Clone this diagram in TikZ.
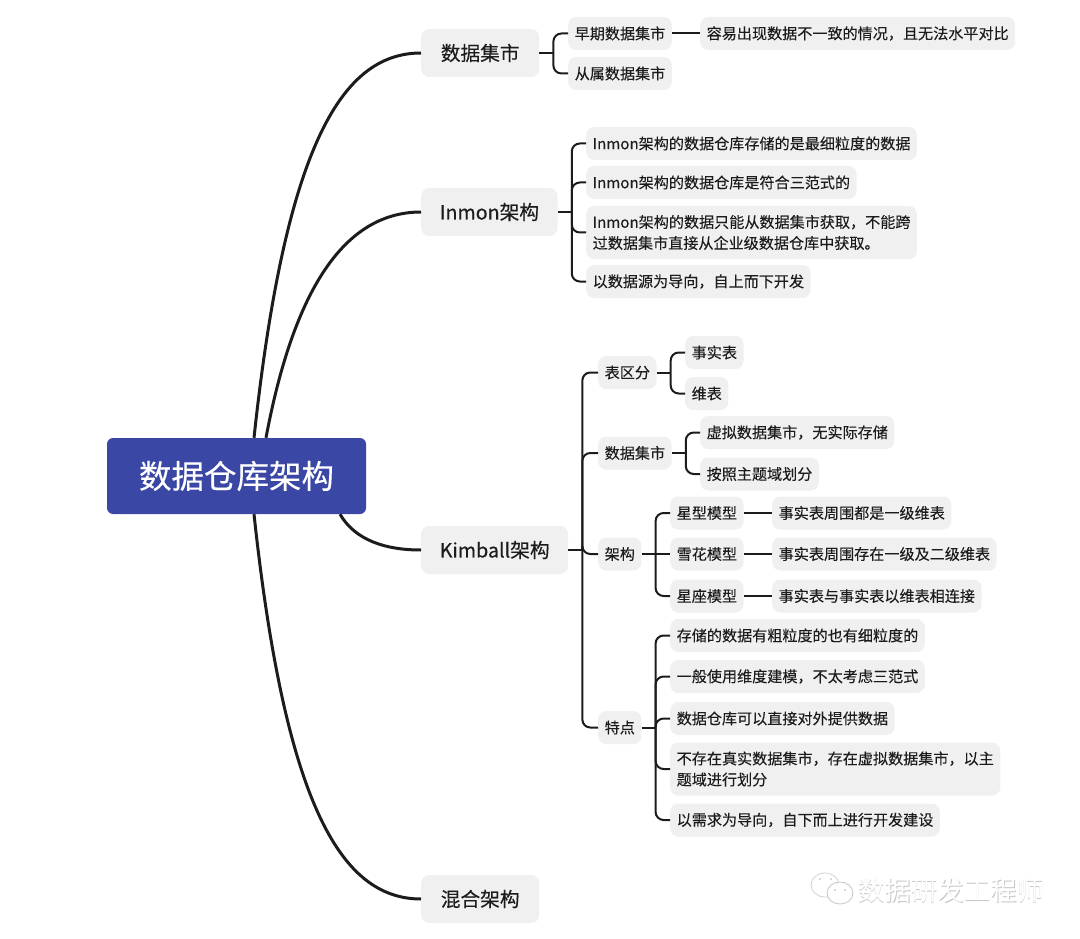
\documentclass[tikz,border=0pt]{standalone}
\usepackage{fontspec}
\setmainfont{Noto Sans CJK SC}
\newfontfamily\heavyfont[FakeBold=0.35]{Noto Sans CJK SC}
\newfontfamily\softfont[FakeBold=0.12]{Noto Sans CJK SC}
\tikzset{
  rootbox/.style={fill=rootblue,rounded corners=6,minimum width=259,minimum height=76,text=white,font=\heavyfont\fontsize{32.5}{38}\selectfont,inner sep=0},
  mainbox/.style={anchor=west,fill=boxgray,rounded corners=8,minimum width=118,minimum height=48,inner xsep=18.5,inner ysep=0,text=inkblack,font=\heavyfont\fontsize{19.7}{24}\selectfont},
  leafbox/.style={anchor=west,fill=boxgray,rounded corners=8,minimum height=33,inner xsep=6.5,inner ysep=3,text=inkblack,align=left,font=\softfont\fontsize{15.1}{21}\selectfont},
  trunk/.style={draw=inkblack,line width=3},
  twig/.style={draw=inkblack,line width=2,rounded corners=8},
  stem/.style={draw=inkblack,line width=2}
}
\definecolor{rootblue}{HTML}{3A47A4}
\definecolor{boxgray}{HTML}{F0F0F0}
\definecolor{inkblack}{HTML}{1C1C1C}
\begin{document}
\begin{tikzpicture}[x=1pt,y=-1pt]
	\useasboundingbox (0,0) rectangle (1080,939);

	% centre and first level
	\node[rootbox] (root) at (236.5,476) {数据仓库架构};
	\node[mainbox] (mart) at (421,53) {数据集市};
	\node[mainbox] (inmon) at (421,212) {Inmon架构};
	\node[mainbox] (kimball) at (421,550) {Kimball架构};
	\node[mainbox] (hybrid) at (421,899) {混合架构};

	\draw[trunk] ([xshift=17.5]root.north) .. controls (285,150) and (340,53) .. (mart.west);
	\draw[trunk] ([xshift=29.5]root.north) .. controls (290,310) and (335,212) .. (inmon.west);
	\draw[trunk] ([xshift=103.5]root.south) .. controls (355,540) and (385,550) .. (kimball.west);
	\draw[trunk] ([xshift=17.5]root.south) .. controls (285,802) and (340,899) .. (hybrid.west);

	% data mart
	\node[leafbox] (early) at (568,33.5) {早期数据集市};
	\node[leafbox] (sub) at (568,73.5) {从属数据集市};
	\node[leafbox] (issue) at (700,33.5) {容易出现数据不一致的情况，且无法水平对比};
	\draw[stem] (mart.east) -- ++(14,0) coordinate (martj);
	\draw[twig] (martj) |- (early.west);
	\draw[twig] (martj) |- (sub.west);
	\draw[stem] (early.east) -- (issue.west);

	% inmon
	\node[leafbox] (inmona) at (586,143.5) {Inmon架构的数据仓库存储的是最细粒度的数据};
	\node[leafbox] (inmonb) at (586,182.5) {Inmon架构的数据仓库是符合三范式的};
	\node[leafbox,minimum height=53] (inmonc) at (586,232.5) {Inmon架构的数据只能从数据集市获取，不能跨\\过数据集市直接从企业级数据仓库中获取。};
	\node[leafbox] (inmond) at (586,281.5) {以数据源为导向，自上而下开发};
	\draw[stem] (inmon.east) -- ++(14,0) coordinate (inmonj);
	\draw[twig] (inmonj) |- (inmona.west);
	\draw[twig] (inmonj) |- (inmonb.west);
	\draw[twig] (inmonj) |- (inmonc.west);
	\draw[twig] (inmonj) |- (inmond.west);

	% kimball
	\node[leafbox] (split) at (598,372.5) {表区分};
	\node[leafbox] (fact) at (685,352.5) {事实表};
	\node[leafbox] (dim) at (685,393.5) {维表};
	\node[leafbox] (kmart) at (598,453) {数据集市};
	\node[leafbox] (virt) at (700,432.5) {虚拟数据集市，无实际存储};
	\node[leafbox] (theme) at (700,474) {按照主题域划分};
	\node[leafbox] (arch) at (598,554) {架构};
	\node[leafbox] (star) at (670,513) {星型模型};
	\node[leafbox] (snow) at (670,554) {雪花模型};
	\node[leafbox] (cons) at (670,596) {星座模型};
	\node[leafbox] (stard) at (772,513) {事实表周围都是一级维表};
	\node[leafbox] (snowd) at (772,554) {事实表周围存在一级及二级维表};
	\node[leafbox] (consd) at (772,596) {事实表与事实表以维表相连接};
	\node[leafbox] (trait) at (598,727.5) {特点};
	\node[leafbox] (traita) at (670,635.5) {存储的数据有粗粒度的也有细粒度的};
	\node[leafbox] (traitb) at (670,676.5) {一般使用维度建模，不太考虑三范式};
	\node[leafbox] (traitc) at (670,718.5) {数据仓库可以直接对外提供数据};
	\node[leafbox,minimum height=53] (traitd) at (670,769) {不存在真实数据集市，存在虚拟数据集市，以主\\题域进行划分};
	\node[leafbox] (traite) at (670,820) {以需求为导向，自下而上进行开发建设};

	\draw[stem] (kimball.east) -- ++(14,0) coordinate (kimj);
	\draw[twig] (kimj) |- (split.west);
	\draw[twig] (kimj) |- (kmart.west);
	\draw[twig] (kimj) |- (arch.west);
	\draw[twig] (kimj) |- (trait.west);

	\draw[stem] (split.east) -- ++(14,0) coordinate (splitj);
	\draw[twig] (splitj) |- (fact.west);
	\draw[twig] (splitj) |- (dim.west);

	\draw[stem] (kmart.east) -- ++(14,0) coordinate (kmartj);
	\draw[twig] (kmartj) |- (virt.west);
	\draw[twig] (kmartj) |- (theme.west);

	\draw[stem] (arch.east) -- ++(14,0) coordinate (archj);
	\draw[twig] (archj) |- (star.west);
	\draw[stem] (archj) -- (snow.west);
	\draw[twig] (archj) |- (cons.west);
	\draw[stem] (star.east) -- (stard.west);
	\draw[stem] (snow.east) -- (snowd.west);
	\draw[stem] (cons.east) -- (consd.west);

	\draw[stem] (trait.east) -- ++(14,0) coordinate (traitj);
	\draw[twig] (traitj) |- (traita.west);
	\draw[twig] (traitj) |- (traitb.west);
	\draw[twig] (traitj) |- (traitc.west);
	\draw[twig] (traitj) |- (traitd.west);
	\draw[twig] (traitj) |- (traite.west);

	% watermark
	\draw[gray!35,fill=white,line width=.8] (825,885) ellipse (14 and 12);
	\draw[gray!45,fill=white,line width=.8] (840,893) ellipse (13 and 11);
	\fill[gray!40] (820,879) circle (1.2) (831,879) circle (1.2) (835,890) circle (1.2) (845,890) circle (1.2);
	\node[text=gray!45,font=\fontsize{26.5}{30}\selectfont,inner sep=0] (markshade) at (951.5,891.5) {数据研发工程师};
	\node[text=white,font=\fontsize{26.5}{30}\selectfont,inner sep=0] (marktext) at (950.8,890.8) {数据研发工程师};
\end{tikzpicture}
\end{document}
